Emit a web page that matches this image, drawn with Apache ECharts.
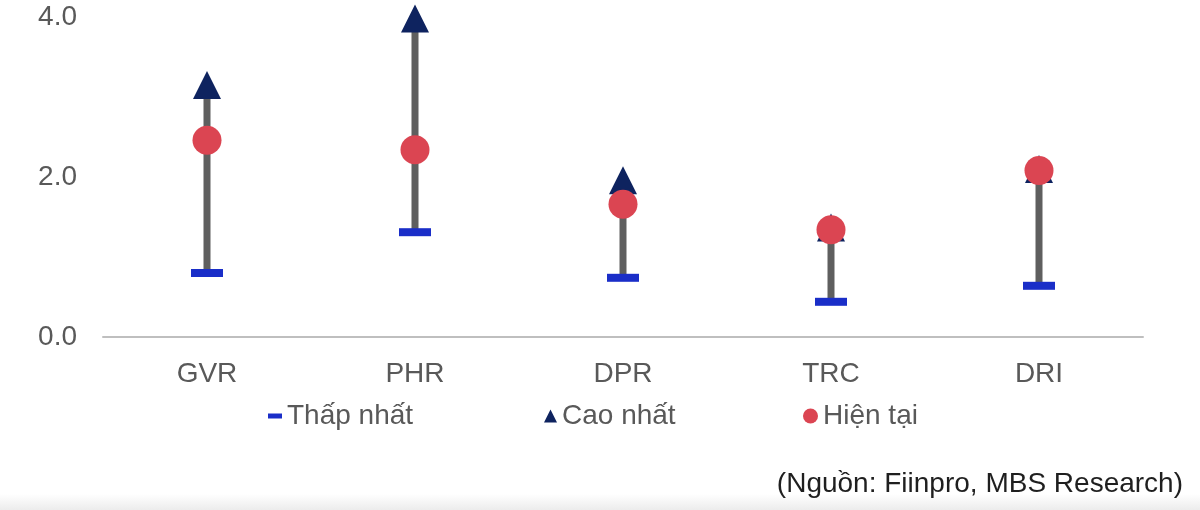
<!DOCTYPE html>
<html>
<head>
<meta charset="UTF-8">
<title>Range chart</title>
<script type="text/javascript" src="https://cdn.jsdelivr.net/npm/echarts@6/dist/echarts.min.js"></script>
<style>
	html, body { margin: 0; padding: 0; background: #fff; }
	#main { width: 1200px; height: 510px; }
</style>
</head>
<body>
	<div id="main"></div>
	<script type="text/javascript">
		// data
		var categories = ['GVR', 'PHR', 'DPR', 'TRC', 'DRI'];
		var lowVals = [0.80, 1.31, 0.74, 0.44, 0.64];      // Thấp nhất
		var highVals = [3.15, 3.98, 1.96, 1.37, 2.10];     // Cao nhất
		var currentVals = [2.46, 2.34, 1.66, 1.34, 2.08];  // Hiện tại
		var yTicks = [0, 2, 4];

		var fontName = '"Liberation Sans", Arial, sans-serif';
		var myChart = echarts.init(document.getElementById('main'));

		var rangeData = categories.map(function (c, i) {
			return [i, lowVals[i], highVals[i]];
		});

		var legendText = { fontFamily: fontName, fontSize: 28, color: '#595959' };

		option = {
			animation: false,
			backgroundColor: '#fff',
			grid: { left: 103, right: 57, top: 17, bottom: 173 },
			legend: [
				{
					data: [{ name: 'Thấp nhất', icon: 'rect' }],
					left: 263, top: 397, itemWidth: 14, itemHeight: 5, itemGap: 0,
					textStyle: legendText
				},
				{
					data: [{ name: 'Cao nhất', icon: 'triangle' }],
					left: 539, top: 397, itemWidth: 13, itemHeight: 13, itemGap: 0,
					textStyle: legendText
				},
				{
					data: [{ name: 'Hiện tại', icon: 'circle' }],
					left: 798, top: 397, itemWidth: 15, itemHeight: 15, itemGap: 0,
					textStyle: legendText
				}
			],
			xAxis: {
				type: 'category',
				data: categories,
				axisLine: { lineStyle: { color: '#bfbfbf', width: 2 } },
				axisTick: { show: false },
				axisLabel: { margin: 23, fontFamily: fontName, fontSize: 28, color: '#595959' }
			},
			yAxis: {
				type: 'value',
				min: yTicks[0],
				max: yTicks[yTicks.length - 1],
				interval: 2,
				splitLine: { show: false },
				axisLine: { show: false },
				axisTick: { show: false },
				axisLabel: {
					margin: 26, fontFamily: fontName, fontSize: 28, color: '#595959',
					formatter: function (v) { return v.toFixed(1); }
				}
			},
			graphic: [
				{
					type: 'rect', left: 0, top: 494, z: -1,
					shape: { width: 1200, height: 16 },
					style: {
						fill: new echarts.graphic.LinearGradient(0, 0, 0, 1, [
							{ offset: 0, color: '#ffffff' },
							{ offset: 1, color: '#ececec' }
						])
					}
				},
				{
					type: 'text', right: 17, top: 470,
					style: {
						text: '(Nguồn: Fiinpro, MBS Research)',
						font: '28px ' + fontName, fill: '#1f1f1f'
					}
				}
			],
			series: [
				{
					name: 'range',
					type: 'custom',
					data: rangeData,
					encode: { x: 0, y: [1, 2] },
					z: 1,
					renderItem: function (params, api) {
						var p1 = api.coord([api.value(0), api.value(1)]);
						var p2 = api.coord([api.value(0), api.value(2)]);
						return {
							type: 'line',
							shape: { x1: p1[0], y1: p1[1], x2: p2[0], y2: p2[1] },
							style: { stroke: '#5f5f5f', lineWidth: 7 }
						};
					}
				},
				{
					name: 'Thấp nhất',
					type: 'scatter',
					data: lowVals,
					symbol: 'rect',
					symbolSize: [32, 8],
					itemStyle: { color: '#1a2ec8', opacity: 1 },
					z: 2
				},
				{
					name: 'Cao nhất',
					type: 'scatter',
					data: highVals,
					symbol: 'triangle',
					symbolSize: [28, 28],
					itemStyle: { color: '#0e235f', opacity: 1 },
					z: 3
				},
				{
					name: 'Hiện tại',
					type: 'scatter',
					data: currentVals,
					symbol: 'circle',
					symbolSize: 29,
					itemStyle: { color: '#db4552', opacity: 1 },
					z: 4
				}
			]
		};

		myChart.setOption(option);
		window.onresize = myChart.resize;
	</script>
</body>
</html>
